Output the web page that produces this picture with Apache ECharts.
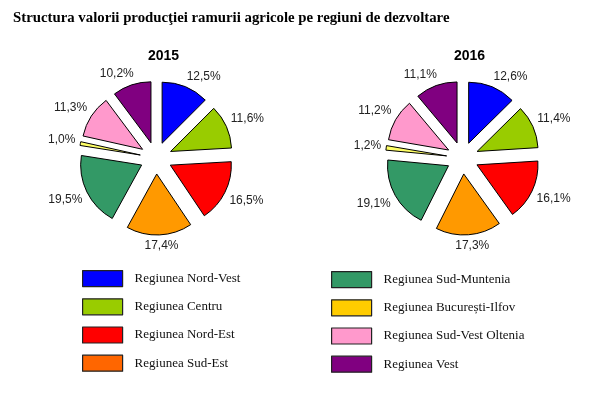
<!DOCTYPE html>
<html>
<head>
<meta charset="utf-8">
<script src="https://cdn.jsdelivr.net/npm/echarts@6/dist/echarts.min.js"></script>
<style>html,body{margin:0;padding:0;background:#fff}#c{width:600px;height:407px}</style>
</head>
<body>
<div id="c"></div>
<script>
const regions = ['Regiunea Nord-Vest','Regiunea Centru','Regiunea Nord-Est','Regiunea Sud-Est','Regiunea Sud-Muntenia','Regiunea București-Ilfov','Regiunea Sud-Vest Oltenia','Regiunea Vest'];
const values2015 = [12.5, 11.6, 16.5, 17.4, 19.5, 1.0, 11.3, 10.2];
const values2016 = [12.6, 11.4, 16.1, 17.3, 19.1, 1.2, 11.2, 11.1];
const years = ['2015', '2016'];
const sliceColors = ['#0000ff','#99cc00','#ff0000','#ff9900','#339966','#ffff66','#ff99cc','#800080'];
const legendColors = ['#0000ff','#99cc00','#ff0000','#ff6600','#339966','#ffcc00','#ff99cc','#800080'];

const chart = echarts.init(document.getElementById('c'), null, {renderer: 'canvas'});
const fmt = v => v.toFixed(1).replace('.', ',') + '%';
const clamp = v => Math.max(-1, Math.min(1, v));

function pieSeries(vals, center) {
  return {
    type: 'pie',
    center: center,
    radius: [0, 61],
    startAngle: 90,
    clockwise: true,
    selectedMode: 'multiple',
    selectedOffset: 16,
    animation: false,
    emphasis: {disabled: true},
    itemStyle: {borderColor: '#000', borderWidth: 1},
    label: {show: false},
    labelLine: {show: false},
    data: regions.map((r, i) => ({name: r, value: vals[i], selected: true, itemStyle: {color: sliceColors[i]}}))
  };
}

// Label ring: labels sit on each slice's bisector, then are pushed so the text box
// sits just beyond the exploded slice (like "outside end" labels).
function labelSeries(vals, center) {
  const dist = 82;
  return {
    type: 'pie',
    center: center,
    radius: [82, 102],
    startAngle: 90,
    clockwise: true,
    silent: true,
    animation: false,
    emphasis: {disabled: true},
    itemStyle: {color: 'rgba(0,0,0,0)', borderWidth: 0},
    label: {
      show: true, position: 'inside', color: '#222',
      fontFamily: 'Liberation Sans, Arial, sans-serif', fontSize: 12, lineHeight: 12,
      formatter: p => fmt(p.value)
    },
    labelLine: {show: false},
    labelLayout: function (p) {
      const r = p.labelRect;
      const lx = r.x + r.width / 2 - center[0];
      const ly = r.y + r.height / 2 - center[1];
      const len = Math.sqrt(lx * lx + ly * ly) || 1;
      const ux = lx / len, uy = ly / len;
      return {
        x: center[0] + dist * ux + (r.width / 2) * clamp(2.5 * ux),
        y: center[1] + dist * uy + (r.height / 2) * clamp(2.5 * uy),
        align: 'center', verticalAlign: 'middle'
      };
    },
    data: regions.map((r, i) => ({name: r, value: vals[i]}))
  };
}

function legendCol(items, left, top, gap) {
  return {
    orient: 'vertical', left: left, top: top, padding: 0,
    itemWidth: 40, itemHeight: 16, itemGap: gap,
    selectedMode: false,
    icon: 'rect',
    textStyle: {fontFamily: 'Liberation Serif, Times New Roman, serif', fontSize: 13, color: '#111', padding: [0,0,0,7]},
    data: items.map(i => ({name: regions[i], itemStyle: {color: legendColors[i], borderColor: '#222', borderWidth: 1.2}}))
  };
}

chart.setOption({
  backgroundColor: '#fff',
  animation: false,
  title: [
    {text: 'Structura valorii producţiei ramurii agricole pe regiuni de dezvoltare', left: 13, top: 11, padding: 0,
     textStyle: {fontFamily: 'Liberation Serif, Times New Roman, serif', fontSize: 14.8, fontWeight: 'bold', color: '#000'}},
    {text: years[0], left: 148, top: 49, padding: 0,
     textStyle: {fontFamily: 'Liberation Sans, Arial, sans-serif', fontSize: 14, fontWeight: 'bold', color: '#000'}},
    {text: years[1], left: 454, top: 49, padding: 0,
     textStyle: {fontFamily: 'Liberation Sans, Arial, sans-serif', fontSize: 14, fontWeight: 'bold', color: '#000'}}
  ],
  legend: [legendCol([0,1,2,3], 82, 270, 11), legendCol([4,5,6,7], 331, 271, 11)],
  series: [
    pieSeries(values2015, [156, 158]), pieSeries(values2016, [462.5, 158]),
    labelSeries(values2015, [156, 158]), labelSeries(values2016, [462.5, 158])
  ]
});
</script>
</body>
</html>
